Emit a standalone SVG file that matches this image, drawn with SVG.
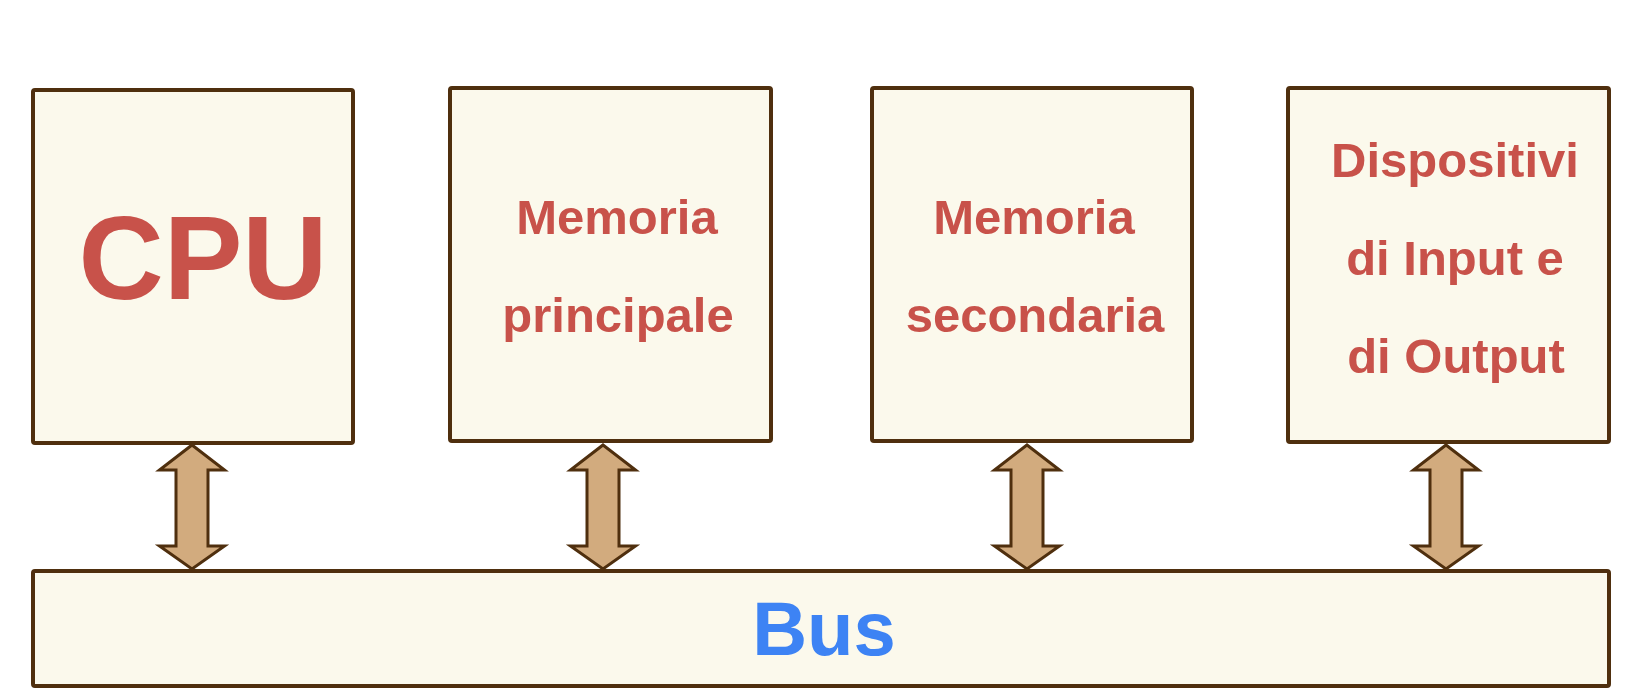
<svg xmlns="http://www.w3.org/2000/svg" width="1636" height="700" viewBox="0 0 1636 700">
  <style>
    .box { fill: #FBF9EC; stroke: #4F2F0E; stroke-width: 4; stroke-linejoin: round; }
    .lbl { font-family: "Liberation Sans", Arial, sans-serif; font-weight: bold; fill: #C8524A; text-anchor: middle; }
    .bus { font-family: "Liberation Sans", Arial, sans-serif; font-weight: bold; fill: #3D83F4; text-anchor: middle; font-size: 76px; }
    .arr { fill: #D2AB7E; stroke: #4F2F0E; stroke-width: 3; stroke-linejoin: miter; }
  </style>
  <defs>
    <path id="dbl" d="M0,0 L32.5,25 L16,25 L16,101 L32.5,101 L0,124 L-32.5,101 L-16,101 L-16,25 L-32.5,25 Z"/>
  </defs>
  <rect width="1636" height="700" fill="#FFFFFF"/>
  <g id="cpu">
    <rect class="box" x="33" y="90" width="320" height="353" rx="2"/>
    <text class="lbl" x="203" y="299" font-size="118">CPU</text>
  </g>
  <g id="memoria-principale">
    <rect class="box" x="450" y="88" width="321" height="353" rx="2"/>
    <text class="lbl" x="617" y="234" font-size="49">Memoria</text>
    <text class="lbl" x="618" y="332" font-size="49">principale</text>
  </g>
  <g id="memoria-secondaria">
    <rect class="box" x="872" y="88" width="320" height="353" rx="2"/>
    <text class="lbl" x="1034" y="234" font-size="49">Memoria</text>
    <text class="lbl" x="1035" y="332" font-size="49">secondaria</text>
  </g>
  <g id="io">
    <rect class="box" x="1288" y="88" width="321" height="354" rx="2"/>
    <text class="lbl" x="1455" y="177" font-size="49">Dispositivi</text>
    <text class="lbl" x="1455" y="275" font-size="49">di Input e</text>
    <text class="lbl" x="1456" y="373" font-size="49">di Output</text>
  </g>
  <g id="bus">
    <rect class="box" x="33" y="571" width="1576" height="115" rx="2"/>
    <text class="bus" x="824" y="655">Bus</text>
  </g>
  <g id="connectors">
    <use href="#dbl" class="arr" transform="translate(192,445)"/>
    <use href="#dbl" class="arr" transform="translate(603,445)"/>
    <use href="#dbl" class="arr" transform="translate(1027,445)"/>
    <use href="#dbl" class="arr" transform="translate(1446,445)"/>
  </g>
</svg>
